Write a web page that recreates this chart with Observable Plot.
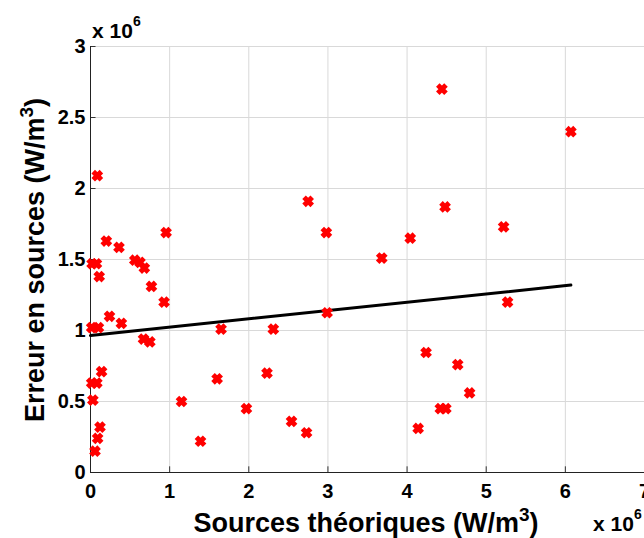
<!DOCTYPE html>
<html>
<head>
<meta charset="utf-8">
<script src="https://cdn.jsdelivr.net/npm/d3@7"></script>
<script src="https://cdn.jsdelivr.net/npm/@observablehq/plot@0.6"></script>
<style>
  html, body { margin: 0; padding: 0; background: #fff; overflow: hidden; }
  svg { display: block; }
</style>
</head>
<body>
<div id="chart"></div>
<script>
// Values in units of 10^6 W/m^3
const sourcesTheoriques = [4.44, 6.07, 0.086, 2.75, 4.48, 0.20, 0.36, 0.955, 2.98, 4.04, 5.22, 0.02, 0.075, 0.11, 0.56, 0.625, 0.68, 0.77, 0.93, 3.68, 2.99, 5.27, 0.24, 0.39, 0.015, 0.10, 1.65, 2.31, 0.67, 0.75, 0.14, 0.015, 0.08, 1.60, 2.23, 0.03, 1.15, 1.97, 0.12, 0.09, 0.057, 1.39, 4.24, 4.64, 4.79, 4.42, 4.49, 4.14, 2.54, 2.73];
const erreurSources     = [2.70, 2.40, 2.09, 1.91, 1.87, 1.63, 1.585, 1.69, 1.69, 1.65, 1.73, 1.47, 1.47, 1.38, 1.495, 1.48, 1.44, 1.31, 1.20, 1.51, 1.125, 1.20, 1.10, 1.05, 1.02, 1.02, 1.01, 1.01, 0.94, 0.92, 0.71, 0.63, 0.63, 0.66, 0.70, 0.51, 0.50, 0.45, 0.32, 0.24, 0.15, 0.22, 0.845, 0.76, 0.56, 0.45, 0.45, 0.31, 0.36, 0.28];
const fitX = [0, 6.07];
const fitY = [0.965, 1.32];
const xTicks = [0, 1, 2, 3, 4, 5, 6, 7];
const yTicks = [0, 0.5, 1, 1.5, 2, 2.5, 3];

const points = sourcesTheoriques.map((x, i) => ({x, y: erreurSources[i]}));
const fit = fitX.map((x, i) => ({x, y: fitY[i]}));

const font = "'Liberation Sans', Arial, Helvetica, sans-serif";

const chart = Plot.plot({
  width: 644,
  height: 538,
  marginLeft: 90,
  marginRight: 0,
  marginTop: 46,
  marginBottom: 66,
  style: {fontFamily: font, background: "#fff", overflow: "visible"},
  x: {domain: [0, 7]},
  y: {domain: [0, 3]},
  marks: [
    Plot.gridX(xTicks, {stroke: "#d9d9d9", strokeOpacity: 1}),
    Plot.gridY(yTicks, {stroke: "#d9d9d9", strokeOpacity: 1}),
    Plot.ruleX(xTicks, {x: d => d, y1: 0, y2: 0.04, stroke: "#333"}),
    Plot.ruleY(yTicks, {y: d => d, x1: 0, x2: 0.07, stroke: "#333"}),
    Plot.ruleX([0], {stroke: "#222"}),
    Plot.ruleY([0], {stroke: "#222"}),
    Plot.axisX(xTicks, {tickSize: 0, tickPadding: 11, fontSize: 20, fontWeight: "bold", fill: "#000", label: null, tickFormat: d => String(d)}),
    Plot.axisY(yTicks, {tickSize: 0, tickPadding: 5, fontSize: 20, fontWeight: "bold", fill: "#000", label: null, tickFormat: d => String(d)}),
    Plot.line(fit, {x: "x", y: "y", stroke: "#000", strokeWidth: 3}),
    Plot.dot(points, {x: "x", y: "y", symbol: "times", r: 3.8, stroke: "#ff0000", strokeWidth: 5})
  ]
});

document.getElementById("chart").appendChild(chart);

const svg = d3.select(chart);
// y axis label
const yl = svg.append("text")
  .attr("transform", "translate(44,260) rotate(-90)")
  .attr("text-anchor", "middle")
  .attr("font-family", font).attr("font-size", 27).attr("font-weight", "bold").attr("fill", "#000");
yl.append("tspan").text("Erreur en sources (W/m");
yl.append("tspan").attr("dy", -11).attr("font-size", 19).text("3");
yl.append("tspan").attr("dy", 11).text(")");

// x axis label
const xl = svg.append("text")
  .attr("x", 366).attr("y", 532)
  .attr("text-anchor", "middle")
  .attr("font-family", font).attr("font-size", 27).attr("font-weight", "bold").attr("fill", "#000");
xl.append("tspan").text("Sources théoriques (W/m");
xl.append("tspan").attr("dy", -11).attr("font-size", 19).text("3");
xl.append("tspan").attr("dy", 11).text(")");

// exponent labels
function expLabel(x, y) {
  const t = svg.append("text").attr("x", x).attr("y", y)
    .attr("text-anchor", "start")
    .attr("font-family", font).attr("font-size", 21).attr("font-weight", "bold").attr("fill", "#000");
  t.append("tspan").text("x 10");
  t.append("tspan").attr("dy", -12).attr("font-size", 14).text("6");
}
expLabel(92, 38);
expLabel(593, 531);
</script>
</body>
</html>
